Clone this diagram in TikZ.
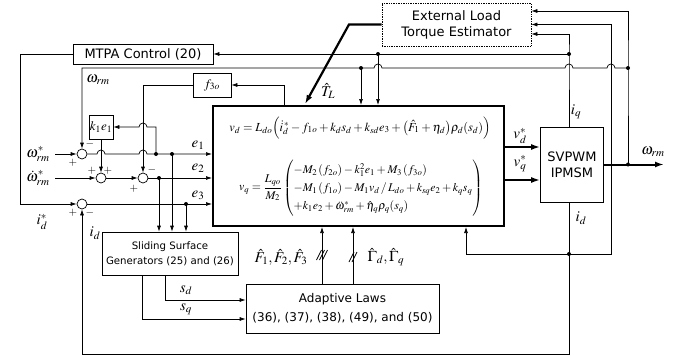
\documentclass[tikz,border=0pt]{standalone}
\usepackage{amsmath}
\usepackage{mathptmx}
\usepackage{fontspec}
\setsansfont{DejaVu Sans}
\usetikzlibrary{arrows.meta, calc}

% small hop of a wire over a crossing wire
\newcommand{\hopR}{arc[start angle=180, end angle=360, radius=4]}
\newcommand{\hopL}{arc[start angle=0, end angle=-180, radius=4]}

\begin{document}
\begin{tikzpicture}[x=1pt, y=-1pt,
    block/.style={draw, line width=0.7pt, inner sep=0pt, align=center, font=\sffamily\fontsize{13}{16}\selectfont},
    sum/.style={circle, draw, line width=0.7pt, minimum size=10pt, inner sep=0pt},
    wire/.style={line width=0.7pt},
    arr/.style={line width=0.7pt, -{Latex[length=6pt, width=4pt]}},
    bus/.style={line width=2pt, -{Latex[length=9pt, width=6pt]}},
    lbl/.style={font=\fontsize{15}{17}\selectfont, inner sep=0pt},
    sgn/.style={font=\fontsize{11}{12}\selectfont, inner sep=0pt},
    junction/.style={circle, fill, inner sep=0pt, minimum size=4pt}
]
\useasboundingbox (0,0) rectangle (681,356);

% Blocks
\node[block, minimum width=140pt, minimum height=20pt] (mtpa) at (143,54) {MTPA Control (20)};
\node[block, densely dotted, minimum width=149pt, minimum height=43pt] (est) at (456.5,24.5) {External Load\\Torque Estimator};
\node[block, minimum width=38pt, minimum height=24pt] (f3o) at (212,85) {$f_{3o}$};
\node[block, minimum width=24pt, minimum height=24pt] (k1e1) at (101,127) {$k_1e_1$};
\node[block, line width=2pt, minimum width=291pt, minimum height=120pt] (main) at (358.5,166) {};
\node[block, minimum width=63pt, minimum height=75pt] (svpwm) at (572,164.5) {SVPWM\\IPMSM};
\node[block, font=\sffamily\fontsize{10.2}{15}\selectfont, minimum width=136pt, minimum height=43pt] (slide) at (170,253.5) {Sliding Surface\\Generators (25) and (26)};
\node[block, font=\sffamily\fontsize{12}{19}\selectfont, minimum width=193pt, minimum height=49pt] (adapt) at (342.5,308.5) {Adaptive Laws\\(36), (37), (38), (49), and (50)};

% Control law inside the main block
\node[font=\fontsize{12.3}{14}\selectfont, inner sep=0pt] (lawd) at (360,128) {%
$v_d = L_{do}\Big(\dot{i}_d^{\,*} - f_{1o} + k_d s_d + k_{sd}e_3 + \big(\hat{F}_1 + \eta_d\big)\rho_d(s_d)\Big)$};
\node[font=\fontsize{11.8}{14}\selectfont, inner sep=0pt] (lawq) at (361,188) {%
\renewcommand{\arraystretch}{1.3}%
$v_q = \dfrac{L_{qo}}{M_2}\left(\begin{array}{@{}l@{}}
-M_2\left(f_{2o}\right) - k_1^2 e_1 + M_3\left(f_{3o}\right)\\
-M_1\left(f_{1o}\right) - M_1 v_d \,/\, L_{do} + k_{sq}e_2 + k_q s_q\\
+k_1e_2 + \ddot{\omega}_{rm}^{*} + \hat{\eta}_q\rho_q(s_q)
\end{array}\right)$};

% Summing junctions
\node[sum] (sum1) at (82,154) {};
\node[sum] (sum2a) at (101,178) {};
\node[sum] (sum2b) at (143,178) {};
\node[sum] (sum3) at (82,204) {};

% Coordinates of free ends and branch points
\coordinate (wref) at (55,154);
\coordinate (wdref) at (55,178);
\coordinate (lft) at (20,54);
\coordinate (wtop) at (82,68);
\coordinate (iqdot) at (569,54);
\coordinate (iqbr) at (378,54);
\coordinate (wbr) at (361,68);
\coordinate (wdot) at (628,68);
\coordinate (wodot) at (628,164.5);
\coordinate (wout) at (664,164.5);
\coordinate (idd) at (569,254);
\coordinate (idr) at (611,254);
\coordinate (idx) at (466,0);
\coordinate (bot) at (569,354);
\coordinate (f3in) at (284,106);
\coordinate (e1a) at (156,154);
\coordinate (e1b) at (172,154);
\coordinate (e2a) at (159,178);
\coordinate (e3a) at (186,204);
\coordinate (sdx) at (165,0);
\coordinate (sqx) at (142,0);
\coordinate (fx) at (322,0);
\coordinate (gx) at (353,0);
\coordinate (vdy) at (0,147);
\coordinate (vqy) at (0,180);
\coordinate (tlknee) at (349,24.5);
\coordinate (tlend) at (305,104);

% Reference inputs and tracking errors
\draw[arr] (wref) -- (sum1.west);
\draw[arr] (sum1.east) -- (97,154) \hopR -- (139,154) \hopR -- (sum1 -| main.west);
\draw[arr] (wdref) -- (sum2a.west);
\draw[arr] (sum2a.east) -- (sum2b.west);
\draw[arr] (sum2b.east) -- (sum2b -| main.west);
\draw[arr] (sum3.east) -- (sum3 -| main.west);
\draw[arr] (mtpa.west) -- (lft) |- (sum3.west);

% Inner feedback of the speed loop
\draw[arr] (e1a) |- (147,127) \hopL -- (k1e1.east);
\draw[arr] (k1e1.south) -- (sum2a.north);
\draw[arr] (f3in) |- (f3o.east);
\draw[arr] (f3o.west) -| (sum2b.north);

% Errors to sliding surfaces
\foreach \p in {e1b, e2a, e3a}
    \draw[arr] (\p) -- (\p |- slide.north);
\draw[arr] (slide.south -| sdx) |- ([yshift=8.5pt]adapt.west);
\draw[arr] (slide.south -| sqx) |- ([yshift=-10.5pt]adapt.west);

% Adaptive laws to controller
\draw[arr] (adapt.north -| fx) -- (fx |- main.south);
\draw[arr] (adapt.north -| gx) -- (gx |- main.south);
\foreach \dx in {-3,0,3}
    \draw[wire] ({322+\dx-2.5},260) -- ({322+\dx+2.5},250);
\foreach \dx in {-1.5,1.5}
    \draw[wire] ({353+\dx-2.5},262) -- ({353+\dx+2.5},252);

% Voltage commands and motor output
\draw[bus] (main.east |- vdy) -- (svpwm.west |- vdy);
\draw[bus] (main.east |- vqy) -- (svpwm.west |- vqy);
\draw[bus] (svpwm.east) -- (wout);

% Speed feedback
\draw[arr] (wodot) -- (wdot) |- ([yshift=13.5pt]est.east);
\draw[arr] (wdot) -- (615,68) \hopL -- (573,68) \hopL -- (382,68) \hopL -- (wtop) -- (sum1.north);
\draw[arr] (wbr) -- (wbr |- main.north);

% q-axis current feedback
\draw[arr] (svpwm.north -| iqdot) -- (iqdot) |- ([yshift=-9.5pt]est.east);
\draw[arr] (iqdot) -- (mtpa.east);
\draw[arr] (iqbr) -- (iqbr |- main.north);

% d-axis current feedback
\draw[wire] (svpwm.south -| idd) -- (idd);
\draw[arr] (idd) -- (idr) |- (est.east);
\draw[arr] (idd) -| (main.south -| idx);
\draw[arr] (idd) -- (bot) -| (sum3.south);

% Load torque estimate
\draw[bus, line width=2.2pt] (est.west) -- (tlknee) -- (tlend);

% Branch dots
\foreach \p in {iqdot, iqbr, wbr, wdot, wodot, idd, e1a, e1b, e2a, e3a}
    \node[junction] at (\p) {};

% Signal labels
\node[lbl] (lwr) at (98,80) {$\omega_{rm}$};
\node[lbl] (lwref) at (38,154) {$\omega_{rm}^{*}$};
\node[lbl] (lwdref) at (38,178) {$\dot{\omega}_{rm}^{*}$};
\node[lbl] (lidref) at (42,222) {$i_d^{*}$};
\node[lbl] (lid) at (95,233) {$i_d$};
\node[lbl] (le1) at (198,145) {$e_1$};
\node[lbl] (le2) at (198,168) {$e_2$};
\node[lbl] (le3) at (198,195) {$e_3$};
\node[lbl] (ltl) at (328,91) {$\hat{T}_L$};
\node[lbl] (lvd) at (520,136) {$v_d^{*}$};
\node[lbl] (lvq) at (520,164) {$v_q^{*}$};
\node[lbl] (lwout) at (653,152) {$\omega_{rm}$};
\node[lbl] (liq) at (576,112) {$i_q$};
\node[lbl] (lidm) at (581,218) {$i_d$};
\node[lbl] (lsd) at (186,290) {$s_d$};
\node[lbl] (lsq) at (186,309) {$s_q$};
\node[lbl] (lf) at (281,257) {$\hat{F}_1,\hat{F}_2,\hat{F}_3$};
\node[lbl] (lg) at (386,257) {$\hat{\Gamma}_d,\hat{\Gamma}_q$};

% Signs at the summing junctions
\node[sgn] (s1p) at (73,163) {$+$};
\node[sgn] (s1m) at (90,144) {$-$};
\node[sgn] (s2p) at (92,171) {$+$};
\node[sgn] (s2q) at (108,171) {$+$};
\node[sgn] (s3m) at (152,170) {$-$};
\node[sgn] (s3p) at (134,189) {$+$};
\node[sgn] (s4p) at (73,213) {$+$};
\node[sgn] (s4m) at (90,213) {$-$};

\end{tikzpicture}
\end{document}
